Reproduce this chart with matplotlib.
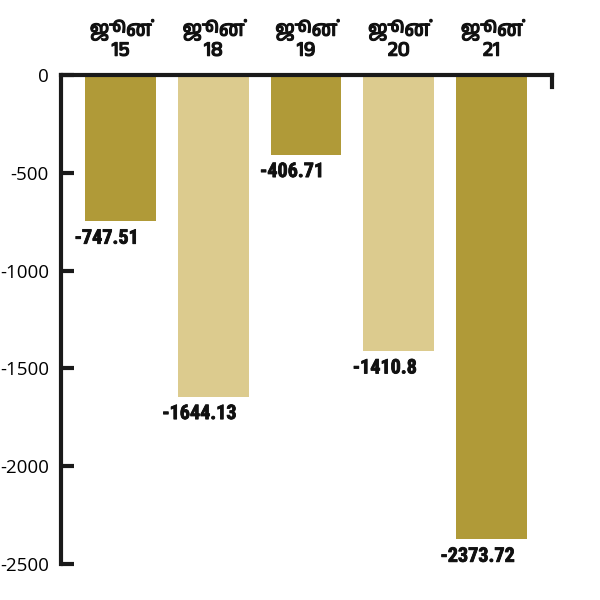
import matplotlib
matplotlib.use('Agg')
import matplotlib.pyplot as plt
from matplotlib import font_manager
import matplotlib.patheffects as pe

# data
days = ['15', '18', '19', '20', '21']
month = 'ஜூன்'
values = [-747.51, -1644.13, -406.71, -1410.8, -2373.72]
value_labels = ['-747.51', '-1644.13', '-406.71', '-1410.8', '-2373.72']
yticks = [0, -500, -1000, -1500, -2000, -2500]

DARK = '#b09a38'
LIGHT = '#dccb8e'
colors = [DARK, LIGHT, DARK, LIGHT, DARK]

# fonts: pick a Tamil face if one exists, and a bold condensed face for the numbers
fl = font_manager.fontManager.ttflist
names = sorted({f.name for f in fl})
tamil = [n for n in names if 'Tamil' in n]
def is_bold(f):
    w = f.weight
    return (w if isinstance(w, int) else 400) >= 700 or w == 'bold'
narrow_bold = sorted({f.name for f in fl
                      if ('Narrow' in f.name or 'Condensed' in f.name or f.stretch == 'condensed')
                      and is_bold(f)})
pref = [n for n in ['Liberation Sans Narrow', 'Roboto Condensed', 'Open Sans Condensed',
                    'Noto Sans Condensed', 'DejaVu Sans Condensed'] if n in narrow_bold]
val_family = (pref or narrow_bold)[:1] + ['Liberation Sans', 'DejaVu Sans']
head_family = tamil + ['Liberation Sans', 'DejaVu Sans']
plt.rcParams['axes.unicode_minus'] = False

fig = plt.figure(figsize=(6, 6), dpi=100)
ax = fig.add_axes([0.1025, 0.06, 0.8175, 0.815])

x = list(range(len(values)))
ax.bar(x, values, width=0.765, color=colors, zorder=1)

ax.set_ylim(-2500, 0)
ax.set_xlim(-0.636, 4.652)

# spines: thick top + left, a little stub on the right
for s in ['top', 'left', 'right']:
    ax.spines[s].set_linewidth(3)
    ax.spines[s].set_color('#1a1a1a')
ax.spines['bottom'].set_visible(False)
ax.spines['right'].set_bounds(-62, 0)
ax.spines['top'].set_zorder(3)

ax.set_yticks(yticks)
ax.set_yticklabels([str(t) for t in yticks], fontsize=13.5, family=['Open Sans', 'DejaVu Sans'])
ax.tick_params(axis='y', direction='in', length=9, width=3, color='#1a1a1a', pad=9)

ax.xaxis.tick_top()
ax.set_xticks(x)
heads = ax.set_xticklabels([month + '\n' + d for d in days], fontsize=15, fontweight='bold',
                           family=head_family, linespacing=1.0, color='#111111')
for h in heads:
    h.set_path_effects([pe.withStroke(linewidth=0.8, foreground='#111111')])
ax.tick_params(axis='x', length=0, pad=11)

for i, v in enumerate(values):
    ax.annotate(value_labels[i], (i, v), xytext=(-14, -17), textcoords='offset pixels',
                ha='center', va='center', fontsize=14.5, fontweight='bold',
                family=val_family, color='#111111',
                path_effects=[pe.withStroke(linewidth=0.6, foreground='#111111')])

fig.savefig('out.png', dpi=100, facecolor='white')
